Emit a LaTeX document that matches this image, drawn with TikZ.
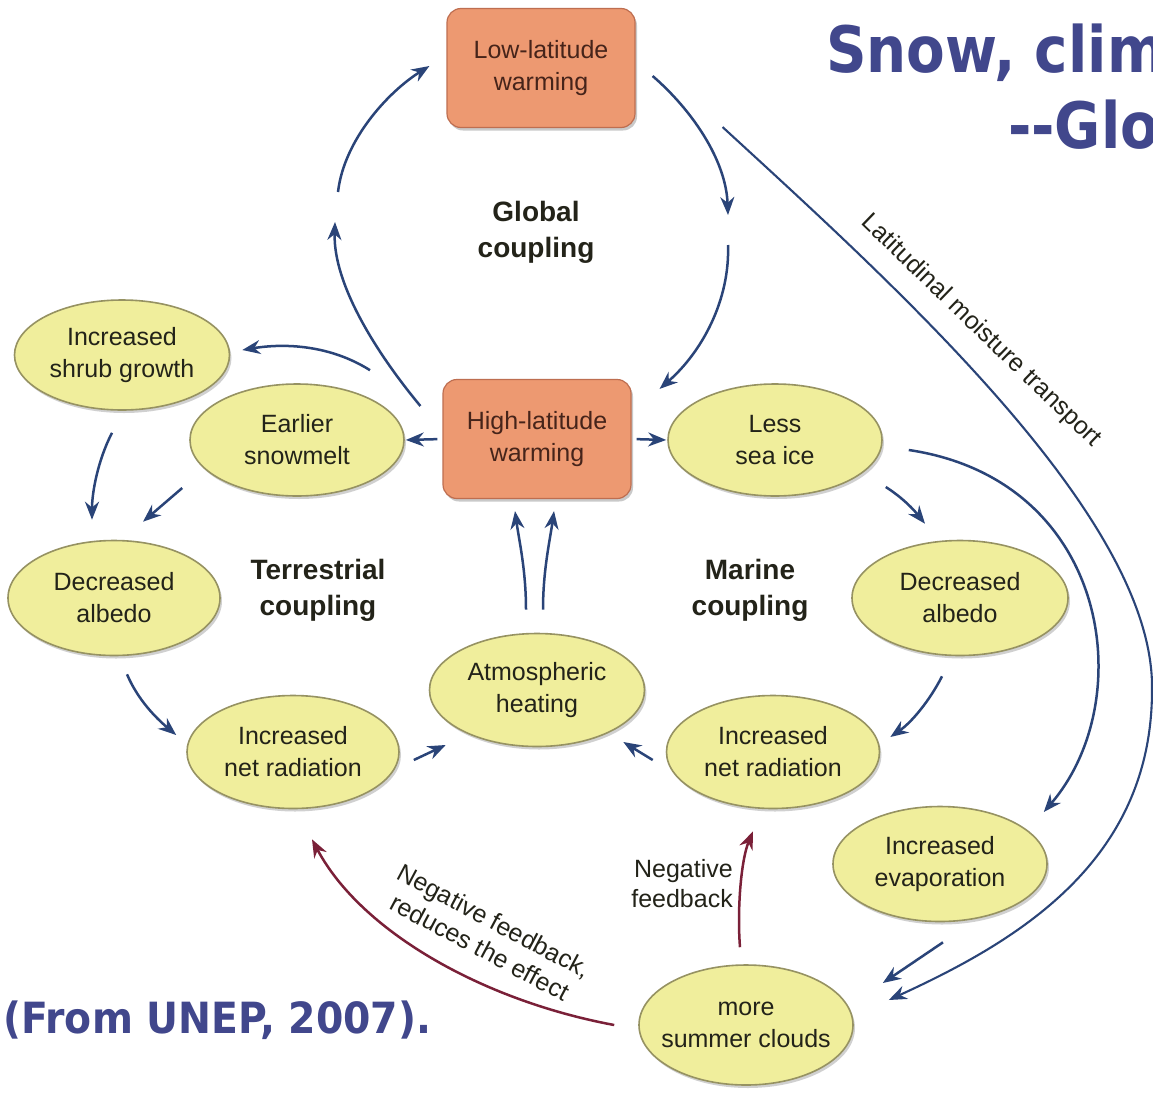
\documentclass[tikz,border=0pt]{standalone}
\usepackage{fontspec}
\setmainfont{Liberation Sans}
\newfontfamily\titlefont{DejaVu Sans}
\usetikzlibrary{arrows.meta,shapes.geometric,shadows}

\definecolor{arrowblue}{RGB}{42,68,120}
\definecolor{fbred}{RGB}{122,32,56}
\definecolor{boxfill}{RGB}{237,153,113}
\definecolor{boxedge}{RGB}{190,110,80}
\definecolor{boxtext}{RGB}{70,36,26}
\definecolor{ellfill}{RGB}{240,238,156}
\definecolor{elledge}{RGB}{150,146,98}
\definecolor{titleblue}{RGB}{65,71,140}
\definecolor{txt}{RGB}{35,35,25}

\tikzset{
  warmbox/.style={rectangle, rounded corners=14pt, fill=boxfill, draw=boxedge,
    line width=1.2pt, minimum width=188pt, minimum height=119pt, inner sep=0pt,
    align=center, text=boxtext, font=\fontsize{25}{32}\selectfont,
    drop shadow={shadow xshift=2pt, shadow yshift=-3pt, opacity=0.35, fill=black!60}},
  effect/.style={ellipse, fill=ellfill, draw=elledge, line width=1.6pt,
    minimum width=214pt, minimum height=112pt, inner sep=-25pt,
    align=center, text=txt, font=\fontsize{25}{32}\selectfont,
    drop shadow={shadow xshift=2pt, shadow yshift=-3pt, opacity=0.3, fill=black!60}},
  arr/.style={draw=arrowblue, line width=2.5pt, -{Stealth[length=18pt, width=14pt]}},
  fb/.style={draw=fbred, line width=2.5pt, -{Stealth[length=18pt, width=14pt]}},
  coupling/.style={font=\bfseries\fontsize{28}{36}\selectfont, align=center, text=txt},
  note/.style={font=\fontsize{25}{30}\selectfont, text=txt, inner sep=0pt},
  headline/.style={font=\titlefont\bfseries\fontsize{64}{70}\selectfont, text=titleblue, inner sep=0pt, anchor=base west},
}

\begin{document}
\begin{tikzpicture}[x=1pt, y=-1pt]
  \clip (0,0) rectangle (1153,1095);
  \fill[white] (0,0) rectangle (1153,1095);

  % heading and source
  \node[headline] (head1) at (826,72) {\scalebox{0.88}[1]{Snow, clim}};
  \node[headline] (head2) at (1008,148) {\scalebox{0.88}[1]{--Glo}};
  \node[headline, font=\titlefont\bfseries\fontsize{43}{50}\selectfont] (src) at (3,1033)
    {\scalebox{0.915}[1]{(From UNEP, 2007).}};

  % warming boxes
  \node[warmbox] (lo) at (541,68) {Low-latitude\\warming};
  \node[warmbox] (hi) at (537,439) {High-latitude\\warming};

  % effects
  \node[effect, minimum width=215pt, minimum height=110pt] (shrub) at (122,355) {Increased\\shrub growth};
  \node[effect] (snow) at (297,440) {Earlier\\snowmelt};
  \node[effect] (ice) at (775,440) {Less\\sea ice};
  \node[effect, minimum width=212pt, minimum height=115pt] (albL) at (114,598) {Decreased\\albedo};
  \node[effect, minimum width=216pt, minimum height=115pt] (albR) at (960,598) {Decreased\\albedo};
  \node[effect, minimum width=215pt, minimum height=113pt] (atm) at (537,690) {Atmospheric\\heating};
  \node[effect, minimum width=212pt, minimum height=113pt] (netL) at (293,752) {Increased\\net radiation};
  \node[effect, minimum width=213pt, minimum height=113pt] (netR) at (773,752) {Increased\\net radiation};
  \node[effect, minimum width=214pt, minimum height=115pt] (evap) at (940,864) {Increased\\evaporation};
  \node[effect, minimum width=214pt, minimum height=120pt] (cloud) at (746,1025) {more\\summer clouds};

  % coupling labels
  \node[coupling] (glob) at (536,232) {Global\\coupling};
  \node[coupling] (terr) at (318,590) {Terrestrial\\coupling};
  \node[coupling] (mar) at (750,590) {Marine\\coupling};

  % free ends of the global loop
  \coordinate (gA) at (335,222);
  \coordinate (gB) at (338,192);
  \coordinate (gC) at (728,215);
  \coordinate (gD) at (728,245);
  \coordinate (mt) at (1152,690);

  % global coupling loop
  \draw[arr] ([shift={(-22,-33)}]hi.west) .. controls (378,355) and (333,285) .. (gA);
  \draw[arr] (gB) .. controls (344,140) and (388,92) .. ([shift={(-17,-2)}]lo.west);
  \draw[arr] ([shift={(17,8)}]lo.east) .. controls (692,110) and (726,160) .. (gC);
  \draw[arr] (gD) .. controls (730,300) and (702,352) .. ([shift={(28,10)}]hi.north east);

  % terrestrial coupling
  \draw[arr] ([shift={(73,-13)}]snow.north) .. controls (330,345) and (285,343) .. ([shift={(12,-5)}]shrub.east);
  \draw[arr, shorten <=5pt, shorten >=1pt] (hi.west) -- (snow.east);
  \draw[arr] ([shift={(-10,22)}]shrub.south) .. controls (98,460) and (92,492) .. ([shift={(-22,-20)}]albL.north);
  \draw[arr] ([shift={(-7,48)}]snow.west) -- ([shift={(29,-18)}]albL.north);
  \draw[arr] ([shift={(13,18)}]albL.south) .. controls (138,700) and (156,718) .. ([shift={(-10,-17)}]netL.west);
  \draw[arr] ([shift={(14,8)}]netL.east) -- ([shift={(17,55)}]atm.west);

  % atmospheric heating feeds back to high latitudes
  \draw[arr] ([shift={(-11,-23)}]atm.north) .. controls (526,570) and (519,540) .. ([shift={(-22,12)}]hi.south);
  \draw[arr] ([shift={(6,-23)}]atm.north) .. controls (543,570) and (550,540) .. ([shift={(17,12)}]hi.south);

  % marine coupling
  \draw[arr, shorten <=5pt, shorten >=1pt] (hi.east) -- (ice.west);
  \draw[arr] ([shift={(3,47)}]ice.east) .. controls (903,498) and (914,510) .. ([shift={(-35,-16)}]albR.north);
  \draw[arr] ([shift={(-18,20)}]albR.south) .. controls (930,700) and (912,722) .. ([shift={(10,-15)}]netR.east);
  \draw[arr] ([shift={(-13,8)}]netR.west) -- ([shift={(-22,52)}]atm.east);
  \draw[arr] ([shift={(26,10)}]ice.east) .. controls (1110,480) and (1140,700) .. ([shift={(-4,-52)}]evap.east);
  \draw[arr] ([shift={(3,20)}]evap.south) -- ([shift={(29,-42)}]cloud.east);

  % latitudinal moisture transport
  \draw[arr, line width=2.1pt] ([shift={(87,-1)}]lo.south east) .. controls (900,290) and (1155,520) .. (mt)
    .. controls (1152,860) and (1020,940) .. ([shift={(35,-25)}]cloud.east);
  \node[note, rotate=-44] (lmt) at (981,331) {Latitudinal moisture transport};

  % negative feedbacks from clouds
  \draw[fb] ([shift={(-6,-17)}]cloud.north) .. controls (737,910) and (741,860) .. ([shift={(-20,22)}]netR.south);
  \node[note, align=right, anchor=east] (nf1) at (733,884) {Negative\\feedback};
  \draw[fb] ([shift={(-24,0)}]cloud.west) .. controls (480,1000) and (360,930) .. ([shift={(19,30)}]netL.south);
  \node[note, align=center, rotate=-28] (nf2) at (487,934) {Negative feedback,\\reduces the effect};
\end{tikzpicture}
\end{document}
